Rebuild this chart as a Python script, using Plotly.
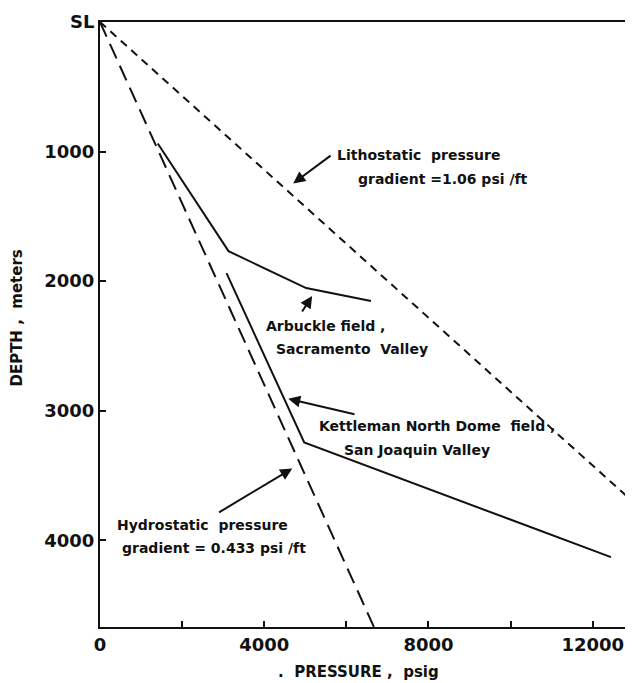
import plotly.graph_objects as go

# ---- data (pressure in psig, depth in meters) ----
litho_pressure = [0, 12860]
litho_depth = [0, 3669]

hydro_pressure = [0, 6672]
hydro_depth = [0, 4670]

arbuckle_pressure = [1407, 3130, 5022, 6599]
arbuckle_depth = [938, 1769, 2054, 2154]

kettleman_pressure = [3081, 4974, 12446]
kettleman_depth = [1938, 3246, 4131]

y_tickvals = [0, 1000, 2000, 3000, 4000]
y_ticktext = ["SL", "1000", "2000", "3000", "4000"]

FONT = "DejaVu Sans"
BLACK = "#111111"

fig = go.Figure()
fig.add_trace(go.Scatter(x=litho_pressure, y=litho_depth, mode="lines",
                         line=dict(color=BLACK, width=2, dash="8px,6px"),
                         showlegend=False, hoverinfo="skip"))
fig.add_trace(go.Scatter(x=hydro_pressure, y=hydro_depth, mode="lines",
                         line=dict(color=BLACK, width=2, dash="16px,8px"),
                         showlegend=False, hoverinfo="skip"))
fig.add_trace(go.Scatter(x=arbuckle_pressure, y=arbuckle_depth, mode="lines",
                         line=dict(color=BLACK, width=2),
                         showlegend=False, hoverinfo="skip"))
fig.add_trace(go.Scatter(x=kettleman_pressure, y=kettleman_depth, mode="lines",
                         line=dict(color=BLACK, width=2),
                         showlegend=False, hoverinfo="skip"))

afont = dict(family=FONT, size=14, color=BLACK, weight="bold")

texts = [
    ("Lithostatic  pressure", 5725, 1023),
    ("gradient =1.06 psi /ft", 6235, 1215),
    ("Arbuckle field ,", 4003, 2346),
    ("Sacramento  Valley", 4246, 2523),
    ("Kettleman North Dome  field ,", 5289, 3115),
    ("San Joaquin Valley", 5895, 3300),
    ("Hydrostatic  pressure", 364, 3885),
    ("gradient = 0.433 psi /ft", 485, 4062),
]
annotations = []
for t, x, y in texts:
    annotations.append(dict(text=t, x=x, y=y, xref="x", yref="y",
                            xanchor="left", yanchor="middle",
                            showarrow=False, font=afont))

# arrows: (head x, head y, tail x, tail y)
arrows = [
    (4706, 1246, 5653, 1023),
    (5167, 2115, 4900, 2246),
    (4585, 2908, 6235, 3031),
    (4682, 3446, 2863, 3792),
]
for hx, hy, tx, ty in arrows:
    annotations.append(dict(text="", x=hx, y=hy, ax=tx, ay=ty,
                            xref="x", yref="y", axref="x", ayref="y",
                            showarrow=True, arrowhead=2, arrowsize=1.2,
                            arrowwidth=2, arrowcolor=BLACK))

annotations.append(dict(text="DEPTH ,  meters", x=-0.157, y=0.51,
                        xref="paper", yref="paper", textangle=-90,
                        showarrow=False, xanchor="center", yanchor="middle",
                        font=dict(family=FONT, size=15, color=BLACK, weight="bold")))
annotations.append(dict(text=".  PRESSURE ,  psig", x=0.49, y=-0.075,
                        xref="paper", yref="paper",
                        showarrow=False, xanchor="center", yanchor="middle",
                        font=dict(family=FONT, size=15, color=BLACK, weight="bold")))

tickfont = dict(family=FONT, size=18, color=BLACK, weight="bold")

fig.update_layout(
    width=625, height=675,
    margin=dict(l=92, r=3, t=12, b=56),
    paper_bgcolor="white", plot_bgcolor="white",
    annotations=annotations,
    xaxis=dict(range=[0, 12860], tick0=0, dtick=4000, tickformat="d",
               ticks="inside", ticklen=6, tickwidth=2, tickcolor=BLACK,
               minor=dict(dtick=2000, ticks="inside", ticklen=6, tickwidth=2,
                          tickcolor=BLACK, showgrid=False),
               showline=True, linecolor=BLACK, linewidth=2, mirror=True,
               showgrid=False, zeroline=False, tickfont=tickfont),
    yaxis=dict(range=[4670, 0], tickvals=y_tickvals, ticktext=y_ticktext,
               ticks="inside", ticklen=6, tickwidth=2, tickcolor=BLACK,
               showline=True, linecolor=BLACK, linewidth=2, mirror=True,
               showgrid=False, zeroline=False, tickfont=tickfont),
)

fig.write_html("out.html")
